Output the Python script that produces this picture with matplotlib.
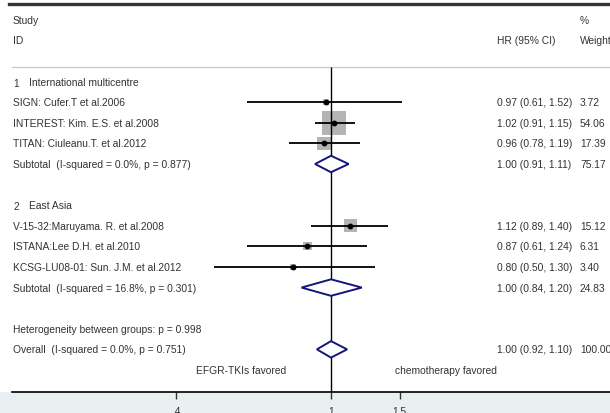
import numpy as np
import matplotlib.pyplot as plt
from matplotlib.patches import Polygon

plt.rcParams['font.family'] = ['Liberation Sans', 'DejaVu Sans']

# ---- data ----
group_names = ["International multicentre", "East Asia"]
studies = [["SIGN: Cufer.T et al.2006",
            "INTEREST: Kim. E.S. et al.2008",
            "TITAN: Ciuleanu.T. et al.2012"],
           ["V-15-32:Maruyama. R. et al.2008",
            "ISTANA:Lee D.H. et al.2010",
            "KCSG-LU08-01: Sun. J.M. et al.2012"]]
hr = [[0.97, 1.02, 0.96], [1.12, 0.87, 0.80]]
lo = [[0.61, 0.91, 0.78], [0.89, 0.61, 0.50]]
hi = [[1.52, 1.15, 1.19], [1.40, 1.24, 1.30]]
weight = [[3.72, 54.06, 17.39], [15.12, 6.31, 3.40]]

sub_label = ["Subtotal  (I-squared = 0.0%, p = 0.877)",
             "Subtotal  (I-squared = 16.8%, p = 0.301)"]
sub_hr = [1.00, 1.00]
sub_lo = [0.91, 0.84]
sub_hi = [1.11, 1.20]
sub_w = [75.17, 24.83]

het_text = "Heterogeneity between groups: p = 0.998"
overall_label = "Overall  (I-squared = 0.0%, p = 0.751)"
overall = (1.00, 0.92, 1.10)
overall_w = 100.00

xticks = [0.4, 1, 1.5]
xticklabels = [".4", "1", "1.5"]

txt_col = '#333333'
fs = 7.4

fig = plt.figure(figsize=(6.1, 4.14), dpi=100)
fig.patch.set_facecolor('#e9f0f2')
ax = fig.add_axes([0, 21 / 414, 1, 393 / 414])
ax.set_facecolor('white')
ax.set_xscale('log')
ax.set_xlim(np.exp(-331 / 169), np.exp((610 - 331) / 169))
ax.set_ylim(15.07, -4.01)

for s in ['top', 'left', 'right']:
    ax.spines[s].set_visible(False)
ax.spines['bottom'].set_bounds(np.exp((12 - 331) / 169), ax.get_xlim()[1])
ax.spines['bottom'].set_linewidth(1.2)
ax.set_yticks([])
ax.set_xticks(xticks)
ax.set_xticklabels(xticklabels)
ax.minorticks_off()
ax.tick_params(axis='x', length=5, width=1, pad=5, labelsize=fs, colors='#333333')

tr = ax.get_yaxis_transform()  # x in axes fraction, y in rows
X_LBL = 13 / 610
X_HR = 497 / 610
X_W = 580 / 610


def row_text(y, label, est=None, l=None, h=None, w=None):
    ax.text(X_LBL, y, label, transform=tr, fontsize=fs, color=txt_col, va='center')
    if est is not None:
        ax.text(X_HR, y, "%.2f (%.2f, %.2f)" % (est, l, h), transform=tr,
                fontsize=fs, color=txt_col, va='center')
        ax.text(X_W, y, "%.2f" % w, transform=tr, fontsize=fs, color=txt_col, va='center')


def diamond(y, est, l, h):
    d = 0.4
    ax.add_patch(Polygon([(l, y), (est, y - d), (h, y), (est, y + d)], closed=True,
                         facecolor='white', edgecolor='#15157a', lw=1.4, zorder=4))


# headers
ax.text(X_LBL, -3, "Study", transform=tr, fontsize=fs, color=txt_col, va='center')
ax.text(X_LBL, -2, "ID", transform=tr, fontsize=fs, color=txt_col, va='center')
ax.text(X_HR, -2, "HR (95% CI)", transform=tr, fontsize=fs, color=txt_col, va='center')
ax.text(X_W, -3, "%", transform=tr, fontsize=fs, color=txt_col, va='center')
ax.text(X_W, -2, "Weight", transform=tr, fontsize=fs, color=txt_col, va='center')

# frame lines
ax.plot([9 / 610, 1], [-3.77, -3.77], transform=tr, color='#333333', lw=2.4, clip_on=False)
ax.plot([12 / 610, 1], [-0.7, -0.7], transform=tr, color='#c8c8c8', lw=0.9)
ax.vlines(1, -0.7, 15.07, color='black', lw=1.0, zorder=3)

y = 0
for g in range(2):
    ax.text(X_LBL, y + 0.05, str(g + 1), transform=tr, fontsize=fs, color=txt_col, va='center')
    ax.text(29 / 610, y, group_names[g], transform=tr, fontsize=fs, color=txt_col, va='center')
    y += 1
    for i in range(3):
        ax.scatter(hr[g][i], y, s=5.54 * weight[g][i], marker='s', color='#b4b4b4',
                   edgecolors='none', zorder=2)
        ax.hlines(y, lo[g][i], hi[g][i], color='black', lw=1.3, zorder=4)
        ax.plot(hr[g][i], y, 'o', color='black', ms=3.2, zorder=5)
        row_text(y, studies[g][i], hr[g][i], lo[g][i], hi[g][i], weight[g][i])
        y += 1
    diamond(y, sub_hr[g], sub_lo[g], sub_hi[g])
    row_text(y, sub_label[g], sub_hr[g], sub_lo[g], sub_hi[g], sub_w[g])
    y += 2

row_text(y, het_text)
y += 1
diamond(y, *overall)
row_text(y, overall_label, overall[0], overall[1], overall[2], overall_w)
y += 1
ax.text(241 / 610, y, "EFGR-TKIs favored", transform=tr, fontsize=fs, color=txt_col,
        va='center', ha='center')
ax.text(446 / 610, y, "chemotherapy favored", transform=tr, fontsize=fs, color=txt_col,
        va='center', ha='center')

fig.savefig('out.png', dpi=100, facecolor=fig.get_facecolor())
